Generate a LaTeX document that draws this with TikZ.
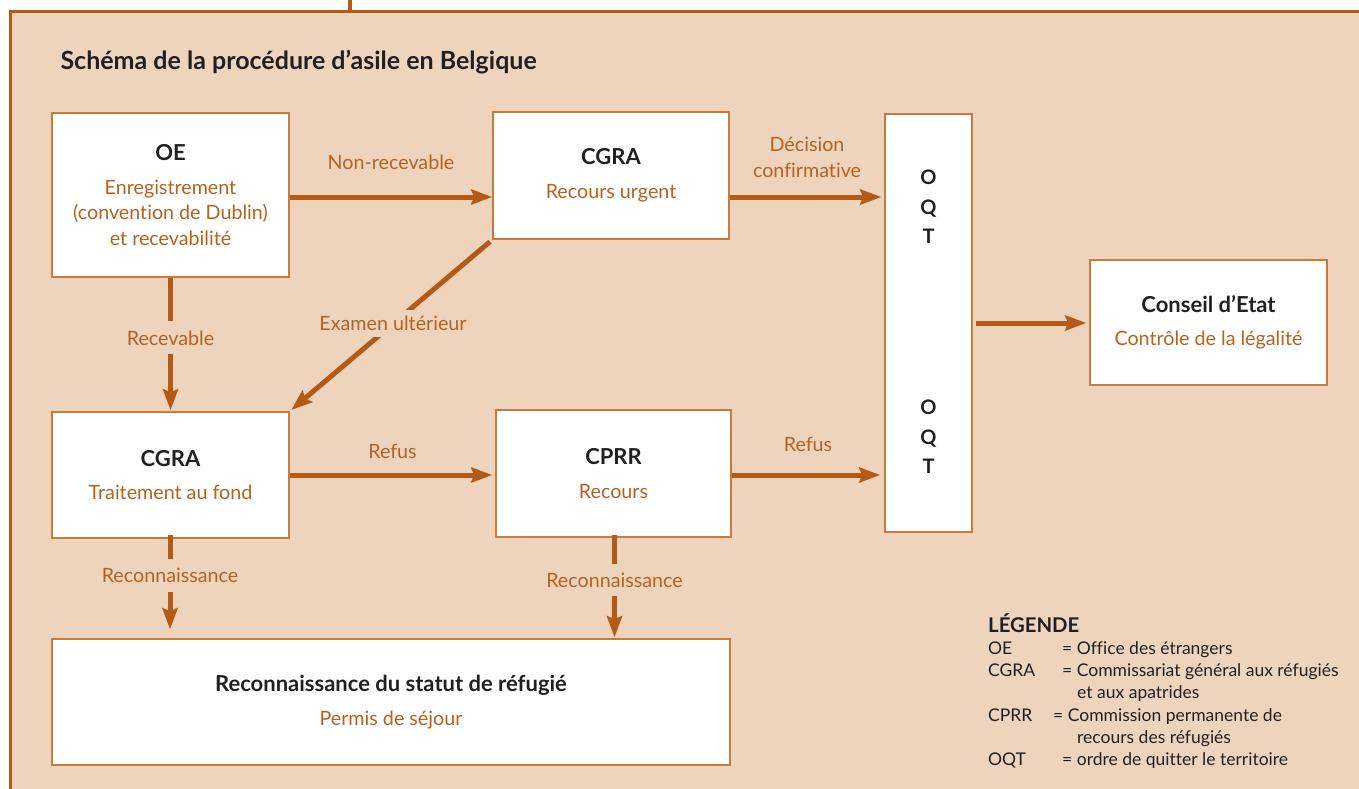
\documentclass[tikz,border=0pt]{standalone}
\usepackage{fontspec}
\setmainfont{Lato}[Ligatures=NoCommon]
\usetikzlibrary{arrows.meta}

\definecolor{bg}{HTML}{EED4BD}
\definecolor{rust}{HTML}{B45A15}
\definecolor{edge}{HTML}{C87B3C}
\definecolor{ink}{HTML}{231F20}
\definecolor{ortext}{HTML}{B8621E}

\tikzset{
  box/.style={draw=edge, line width=1.5pt, fill=white, inner sep=0pt,
    align=center, font=\fontsize{19.7}{25.5}\selectfont, text=ortext},
  arr/.style={draw=rust, line width=5pt,
    -{Stealth[length=21pt,width=15pt,inset=3pt]}},
  lab/.style={text=ortext, font=\fontsize{19.7}{25.5}\selectfont,
    inner sep=0pt, align=center},
  gaplab/.style={lab, fill=bg, inner xsep=3pt, inner ysep=9pt},
  oqtlet/.style={text=ink, font=\fontsize{20}{29.5}\selectfont\bfseries,
    align=center, inner sep=0pt},
}
\newcommand\hd[1]{{\color{ink}\fontsize{22}{25.5}\selectfont\bfseries #1}}

\begin{document}
\begin{tikzpicture}[x=1pt,y=-1pt]
\useasboundingbox (0,0) rectangle (1359,789);
\fill[white] (0,0) rectangle (1359,789);

% outer frame, open to the right and bottom
\fill[bg] (10,12) rectangle (1370,800);
\draw[rust, line width=3pt] (10,800) -- (10,12) -- (1370,12);
\draw[rust, line width=4pt] (350,0) -- (350,12);

\node[anchor=base west, text=ink, font=\fontsize{25}{30}\selectfont\bfseries]
  (title) at (57,70) {Schéma de la procédure d’asile en Belgique};

% boxes
\node[box, minimum width=237pt, minimum height=164pt] (oe) at (170.5,195)
  {\hd{OE}\\[8.5pt]Enregistrement\\(convention de Dublin)\\et recevabilité};
\node[box, minimum width=236pt, minimum height=127pt] (cgraA) at (611,175.5)
  {\hd{CGRA}\\[8pt]Recours urgent};
\node[box, minimum width=87pt, minimum height=418pt] (oqt) at (928.5,323) {};
\node[box, minimum width=237pt, minimum height=125pt] (ce) at (1208.5,322.5)
  {\hd{Conseil d’Etat}\\[8pt]Contrôle de la légalité};
\node[box, minimum width=237pt, minimum height=126pt] (cgraB) at (170.5,475)
  {\hd{CGRA}\\[8pt]Traitement au fond};
\node[box, minimum width=235pt, minimum height=127pt] (cprr) at (613.5,473.5)
  {\hd{CPRR}\\[8pt]Recours};
\node[box, minimum width=678pt, minimum height=126pt] (rec) at (391,702)
  {\hd{Reconnaissance du statut de réfugié}\\[8pt]Permis de séjour};

\node[oqtlet] (oqtA) at (928.5,207) {O\\Q\\T};
\node[oqtlet] (oqtB) at (928.5,437) {O\\Q\\T};

% connectors
\draw[arr] ([yshift=-2pt]oe.east) -- ([yshift=-2pt]oe.east -| cgraA.west)
  node[lab, midway, above=25pt] (l1) {Non-recevable};
\draw[arr, shorten >=3pt] ([yshift=-21.5pt]cgraA.east) -- ([yshift=-21.5pt]cgraA.east -| oqt.west)
  node[lab, midway, above=17pt] (l2) {Décision\\confirmative};
\draw[arr, shorten <=3pt, shorten >=3pt] (oqt.east) -- (oqt.east -| ce.west);
\draw[arr, shorten >=1pt] (oe.south) -- (oe.south |- cgraB.north)
  node[gaplab, pos=0.45] (l3) {Recevable};
\draw[arr, shorten <=3pt, shorten >=2pt] (cgraA.south west) -- (cgraB.north east)
  node[gaplab, pos=0.49, inner xsep=1pt, inner ysep=6pt] (l4) {Examen ultérieur};
\draw[arr, shorten >=3pt] (cgraB.east) -- (cgraB.east -| cprr.west)
  node[lab, midway, above=14pt] (l5) {Refus};
\draw[arr, shorten >=4pt] ([yshift=-1.5pt]cprr.east) -- ([yshift=-1.5pt]cprr.east -| oqt.west)
  node[lab, midway, above=21pt] (l6) {Refus};
\draw[arr, shorten <=-4pt, shorten >=9pt] ([xshift=-0.5pt]cgraB.south) -- ([xshift=-0.5pt]cgraB.south |- rec.north)
  node[gaplab, pos=0.37] (l7) {Reconnaissance};
\draw[arr, shorten <=-3pt, shorten >=1pt] ([xshift=1pt]cprr.south) -- ([xshift=1pt]cprr.south |- rec.north)
  node[gaplab, pos=0.42] (l8) {Reconnaissance};

% legend
\node[anchor=base west, inner sep=0pt, text=ink, font=\fontsize{17.5}{22.3}\selectfont]
  (legend) at (988,632) {%
  \begin{tabular}[t]{@{}p{74pt}@{}l@{}}
  \multicolumn{2}{@{}l@{}}{\fontsize{20.3}{22.3}\selectfont\bfseries LÉGENDE}\\
  OE & = Office des étrangers\\
  CGRA & = Commissariat général aux réfugiés\\
  & \hspace{15pt}et aux apatrides\\
  CPRR & \hspace{-9pt}= Commission permanente de\\
  & \hspace{15pt}recours des réfugiés\\
  OQT & = ordre de quitter le territoire
  \end{tabular}};
\end{tikzpicture}
\end{document}
